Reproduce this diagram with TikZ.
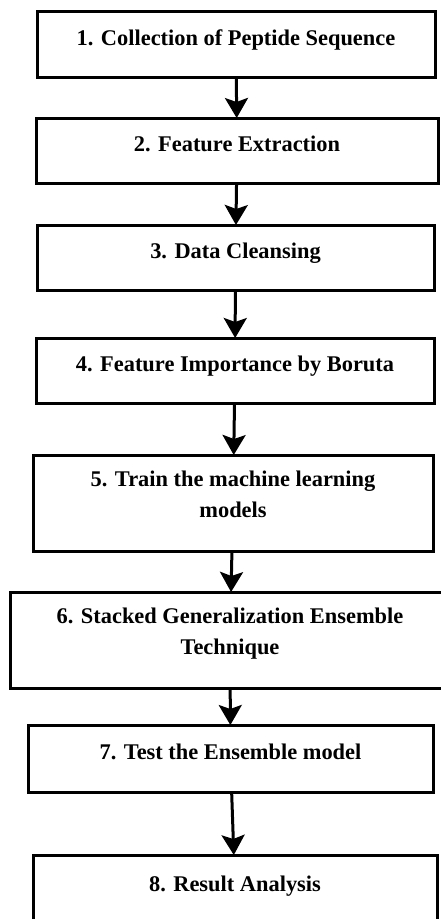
\documentclass[tikz,border=0pt]{standalone}
\usepackage{fontspec}
\setmainfont{Liberation Serif}
\usetikzlibrary{arrows.meta}
\usetikzlibrary{positioning}

\begin{document}
\begin{tikzpicture}[x=1pt,y=-1pt]
\tikzset{stepbox/.style={rectangle,draw,line width=3pt,outer sep=0pt,align=center,font=\fontsize{22.4}{31}\selectfont\bfseries,text height=14pt,text depth=12pt,minimum height=65pt}}
\tikzset{twoline/.style={text height=45pt,text depth=16pt,minimum height=96pt}}
\tikzset{flow/.style={line width=3pt,-{Stealth[length=20pt,width=23pt,inset=4pt]}}}
\useasboundingbox (0,0) rectangle (441,919);
\clip (0,0) rectangle (441,919);
\node[stepbox,minimum width=398pt,minimum height=66pt](s1) at (236,44){1. Collection of Peptide Sequence};
\node[stepbox,minimum width=402pt](s2)[below=41pt of s1,xshift=1pt]{2. Feature Extraction};
\draw[flow](s1) -- (s2);
\node[stepbox,minimum width=397pt](s3)[below=42pt of s2,xshift=-1.5pt]{3. Data Cleansing};
\draw[flow](s2) -- (s3);
\node[stepbox,minimum width=398pt](s4)[below=48pt of s3,xshift=-0.5pt]{4. Feature Importance by Boruta};
\draw[flow](s3) -- (s4);
\node[stepbox,twoline,minimum width=400pt](s5)[below=52pt of s4,xshift=-2pt]{5. Train the machine learning\\models};
\draw[flow](s4) -- (s5);
\node[stepbox,twoline,minimum width=440pt](s6)[below=41pt of s5,xshift=-3pt]{6. Stacked Generalization Ensemble\\Technique};
\draw[flow](s5) -- (s6);
\node[stepbox,minimum width=405pt,minimum height=67pt](s7)[below=37pt of s6,xshift=0.5pt]{7. Test the Ensemble model};
\draw[flow](s6) -- (s7);
\node[stepbox,minimum width=404pt,minimum height=70pt](s8)[below=63pt of s7,xshift=4.5pt]{8. Result Analysis};
\draw[flow](s7) -- (s8);
\end{tikzpicture}
\end{document}
